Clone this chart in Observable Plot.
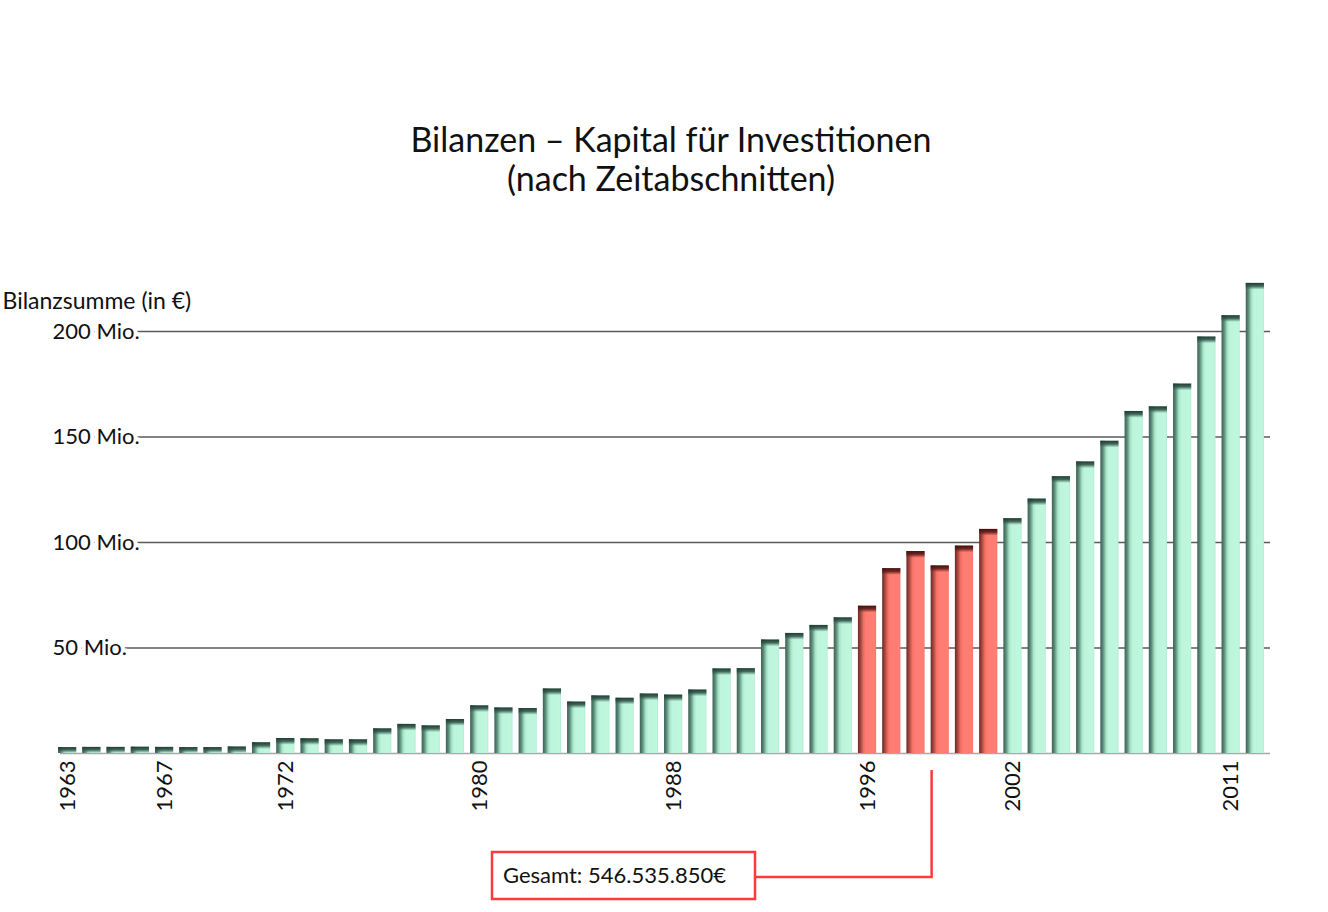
<!DOCTYPE html>
<html><head><meta charset="utf-8">
<script src="https://cdn.jsdelivr.net/npm/d3@7"></script>
<script src="https://cdn.jsdelivr.net/npm/@observablehq/plot@0.6"></script>
<style>
body{margin:0;background:#fff;font-family:Lato,sans-serif;}
#wrap{width:1328px;height:912px;position:relative;overflow:hidden}
#title{height:220px;box-sizing:border-box;padding-top:119px;text-align:center;font-size:34px;line-height:39px;color:#111;padding-left:14px}
#chart svg{display:block}
</style></head><body>
<div id="wrap"><div id="title">Bilanzen – Kapital für Investitionen<br>(nach Zeitabschnitten)</div><div id="chart"></div></div>
<script>
// ---- data (Bilanzsumme in Mio. €) ----
const years = [1963,1964,1965,1966,1967,1968,1969,1970,1971,1972,1973,1974,1975,1976,1977,1978,1979,1980,1981,1982,1983,1984,1985,1986,1987,1988,1989,1990,1991,1992,1993,1994,1995,1996,1997,1998,1999,2000,2001,2002,2003,2004,2005,2006,2007,2008,2009,2010,2011,2012];
const bilanzsumme = [2.8,2.9,2.9,3.0,2.9,2.8,2.8,3.1,5.1,7.1,7.0,6.5,6.5,11.7,13.8,13.1,16.1,22.6,21.6,21.3,30.6,24.4,27.3,26.2,28.2,27.7,30.1,40.1,40.2,53.8,56.9,60.7,64.3,69.8,87.6,95.7,88.9,98.3,106.2,111.3,120.6,131.2,138.2,148.0,162.1,164.3,175.1,197.4,207.5,222.8];
const highlightYears = [1996,1997,1998,1999,2000,2001];
const tickYears = [1963,1967,1972,1980,1988,1996,2002,2011];
const yTicks = [50,100,150,200];
const yTickLabels = ["50 Mio.","100 Mio.","150 Mio.","200 Mio."];
const yTitle = "Bilanzsumme (in €)";
const annotation = "Gesamt: 546.535.850€";

const rows = years.map((y,i)=>({year:y, value:bilanzsumme[i], hi: highlightYears.includes(y)}));
const green = rows.filter(d=>!d.hi), red = rows.filter(d=>d.hi);
const cap = 3.2;
const font = "Lato, sans-serif";

const plot = Plot.plot({
  width: 1328, height: 692,
  marginLeft: 60, marginRight: 58, marginTop: 0, marginBottom: 0,
  style: {fontFamily: font, background: "transparent"},
  x: {type: "band", domain: years, padding: 0.25, range: [52, 1270], round: false, axis: null},
  y: {domain: [0, 200], range: [533, 111], axis: null},
  marks: [
    Plot.ruleY([0], {stroke: "#a8a8a8", strokeWidth: 1.5, dx: 0}),
    Plot.ruleY(yTicks, {stroke: "#5a5a5a", strokeWidth: 1.3}),
    Plot.text(yTicks, {y: d=>d, text: (d,i)=>yTickLabels[i], frameAnchor: "left", dx: -8, textAnchor: "start", fontSize: 22, fill: "#111", stroke: "white", strokeWidth: 8, paintOrder: "stroke"}),
    Plot.text([yTitle], {frameAnchor: "top-left", dx: -58, dy: 88, lineAnchor: "bottom", textAnchor: "start", fontSize: 23, fill: "#111"}),
    Plot.barY(green, {x: "year", y: "value", fill: "url(#gGreen)"}),
    Plot.barY(red, {x: "year", y: "value", fill: "url(#gRed)"}),
    Plot.barY(green, {x: "year", y1: d=>Math.max(0,d.value-cap), y2: "value", fill: "url(#cGreen)"}),
    Plot.barY(red, {x: "year", y1: d=>Math.max(0,d.value-cap), y2: "value", fill: "url(#cRed)"}),
    Plot.text(tickYears, {x: d=>d, y: 0, text: d=>String(d), dy: 7, rotate: -90, textAnchor: "end", fontSize: 22, fill: "#111"})
  ]
});

const svg = d3.select(plot);
const defs = svg.insert("defs", ":first-child");
function hgrad(id, stops){
  const g = defs.append("linearGradient").attr("id", id).attr("x1",0).attr("x2",1).attr("y1",0).attr("y2",0);
  stops.forEach(([o,c])=>g.append("stop").attr("offset",o).attr("stop-color",c));
}
function vgrad(id, stops){
  const g = defs.append("linearGradient").attr("id", id).attr("x1",0).attr("x2",0).attr("y1",0).attr("y2",1);
  stops.forEach(([o,c,op])=>g.append("stop").attr("offset",o).attr("stop-color",c).attr("stop-opacity",op));
}
hgrad("gGreen", [["0%","#3b6154"],["14%","#5a8b78"],["32%","#a6e3c8"],["45%","#bdf5dc"],["92%","#bff6de"],["100%","#b2e9d0"]]);
hgrad("gRed", [["0%","#6a2823"],["14%","#a3443c"],["32%","#f27065"],["45%","#ff7c71"],["92%","#ff7e73"],["100%","#f47368"]]);
vgrad("cGreen", [["0%","#1f3a31",1],["50%","#2f5246",0.85],["100%","#3d6357",0]]);
vgrad("cRed", [["0%","#3e0f0c",1],["50%","#5a1c17",0.85],["100%","#6e2a24",0]]);

// annotation callout anchored on the highlighted period
const xs = plot.scale("x");
const xMid = (xs.apply(highlightYears[0]) + xs.apply(highlightYears[highlightYears.length-1]) + xs.bandwidth)/2 + 4;
const ann = svg.append("g").attr("stroke", "#ff3a3a").attr("stroke-width", 2.5).attr("fill", "none");
ann.append("path").attr("d", `M${xMid},550 V657 H755`);
ann.append("rect").attr("x", 492).attr("y", 632).attr("width", 263).attr("height", 47).attr("fill", "#fff");
svg.append("text").attr("x", 503).attr("y", 663).attr("text-anchor", "start")
  .style("font-size", "22px").style("font-family", font).attr("fill", "#111").text(annotation);

document.getElementById("chart").appendChild(plot);
</script>
</body></html>
